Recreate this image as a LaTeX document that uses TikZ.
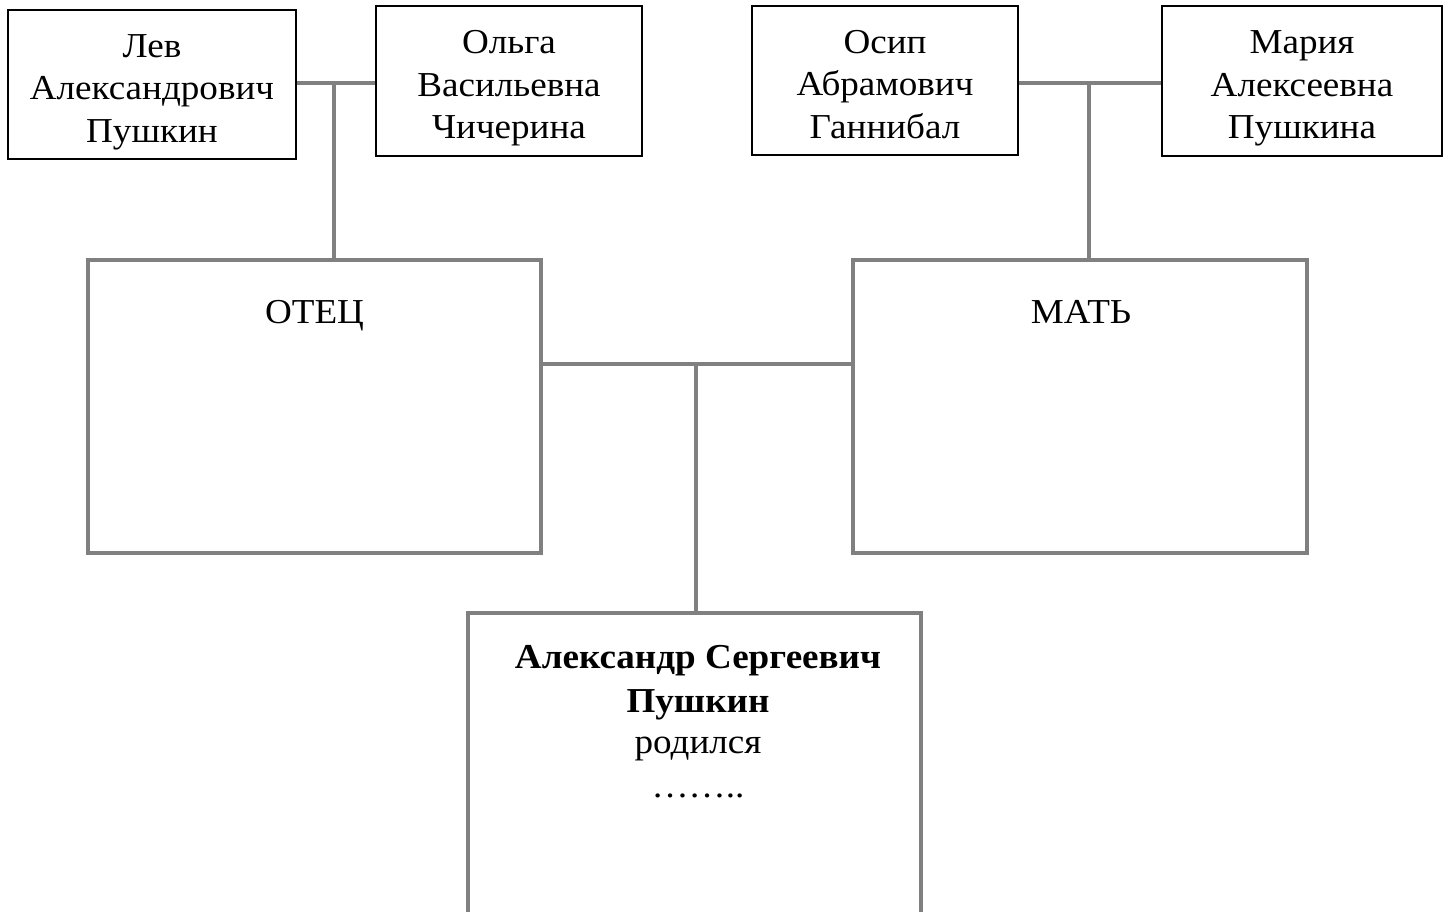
\documentclass[tikz,border=0pt]{standalone}
\usepackage{fontspec}
\setmainfont{Liberation Serif}[FakeStretch=1.06]
\begin{document}
\begin{tikzpicture}[x=1pt,y=-1pt,
  topbox/.style={draw=black,line width=2.5pt,fill=white,inner sep=0pt,align=center,
    font=\fontsize{35}{42.5}\selectfont,text height=115pt,text depth=0pt},
  bigbox/.style={draw=boxgray,line width=3.5pt,fill=white,inner sep=0pt},
  link/.style={draw=boxgray,line width=4pt},
  lbl/.style={font=\fontsize{35}{42.5}\selectfont,inner sep=0pt,anchor=base},
]
\definecolor{boxgray}{HTML}{808080}
\useasboundingbox[fill=white] (0,0) rectangle (1448,911);
\coordinate (c1) at (334,83);
\coordinate (c2) at (1089,83);
\coordinate (c3) at (696,364);
% boxes
\node[topbox,minimum width=288pt,minimum height=149pt] (lev) at (152,84.5)
  {Лев\\Александрович\\Пушкин};
\node[topbox,minimum width=266pt,minimum height=150pt] (olga) at (509,81)
  {Ольга\\Васильевна\\Чичерина};
\node[topbox,minimum width=266pt,minimum height=149pt] (osip) at (885,80.5)
  {Осип\\Абрамович\\Ганнибал};
\node[topbox,minimum width=280pt,minimum height=150pt] (maria) at (1302,81)
  {Мария\\Алексеевна\\Пушкина};
\node[bigbox,minimum width=453pt,minimum height=293pt] (otec) at (314.5,406.5) {};
\node[bigbox,minimum width=454pt,minimum height=293pt] (mat) at (1080,406.5) {};
\node[bigbox,minimum width=453pt,minimum height=303pt] (child) at (694.5,764.5) {};
% texts
\node[lbl] (otectxt) at (314.5,323) {ОТЕЦ};
\node[lbl] (mattxt) at (1081,323) {МАТЬ};
\node[lbl,font=\fontsize{35}{42.5}\selectfont\bfseries] (childname1) at (698,668) {Александр Сергеевич};
\node[lbl,font=\fontsize{35}{42.5}\selectfont\bfseries] (childname2) at (698,712) {Пушкин};
\node[lbl] (childborn) at (698,753) {родился};
\node[lbl] (childdots) at (698,797) {……..};
% connectors
\draw[link] (lev.east |- c1) -- (olga.west |- c1);
\draw[link] (c1) -- (c1 |- otec.north);
\draw[link] (osip.east |- c2) -- (maria.west |- c2);
\draw[link] (c2) -- (c2 |- mat.north);
\draw[link] (otec.east |- c3) -- (mat.west |- c3);
\draw[link] (c3) -- (c3 |- child.north);
\end{tikzpicture}
\end{document}
